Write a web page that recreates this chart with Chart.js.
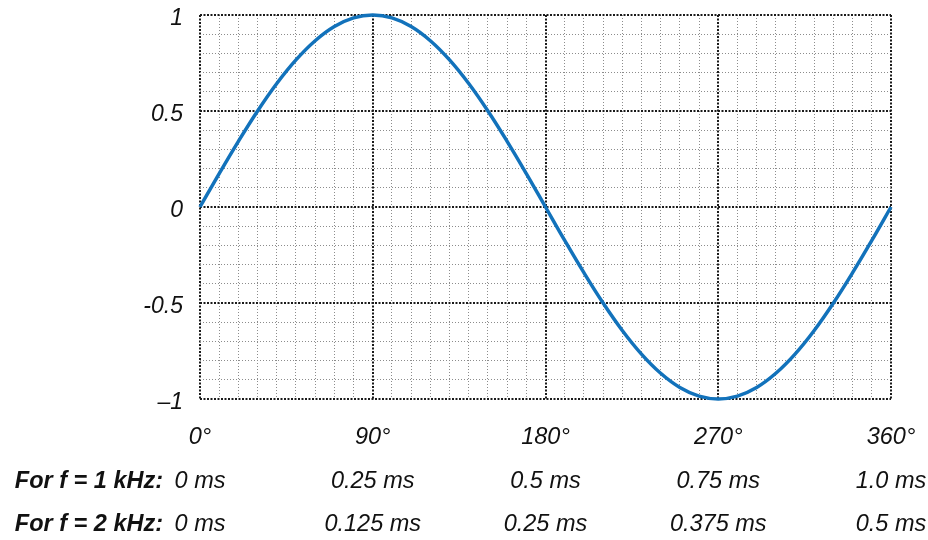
<!DOCTYPE html>
<html>
<head>
<meta charset="utf-8">
<script src="https://cdn.jsdelivr.net/npm/chart.js@4.4.1/dist/chart.umd.min.js"></script>
<style>
  html, body { margin: 0; padding: 0; background: #fff; }
  #wrap { width: 928px; height: 540px; position: relative; }
</style>
</head>
<body>
<div id="wrap"><canvas id="chart" width="928" height="540"></canvas></div>
<script>
// ---------- Data ----------
const angles = [0, 10, 20, 30, 40, 50, 60, 70, 80, 90, 100, 110, 120, 130, 140, 150, 160, 170, 180,
  190, 200, 210, 220, 230, 240, 250, 260, 270, 280, 290, 300, 310, 320, 330, 340, 350, 360];
const amplitude = [0, 0.174, 0.342, 0.5, 0.643, 0.766, 0.866, 0.94, 0.985, 1, 0.985, 0.94, 0.866, 0.766, 0.643, 0.5, 0.342, 0.174, 0,
  -0.174, -0.342, -0.5, -0.643, -0.766, -0.866, -0.94, -0.985, -1, -0.985, -0.94, -0.866, -0.766, -0.643, -0.5, -0.342, -0.174, 0];

// tick labels (one per major gridline)
const xMajor = [0, 90, 180, 270, 360];
const degreeLabels = ["0°", "90°", "180°", "270°", "360°"];
const ms1kHz = ["0 ms", "0.25 ms", "0.5 ms", "0.75 ms", "1.0 ms"];
const ms2kHz = ["0 ms", "0.125 ms", "0.25 ms", "0.375 ms", "0.5 ms"];
const yMajor = [-1, -0.5, 0, 0.5, 1];
const yLabels = ["\u20131", "-0.5", "0", "0.5", "1"];
const rowTitles = ["For f = 1 kHz:", "For f = 2 kHz:"];

// ---------- Style ----------
const FONT = "'Liberation Sans', Arial, sans-serif";
const FS = 23.5;
const LINE_H = 1.85;
const TICK_PAD = 17;

function majorIdx(list, v) {
  return list.findIndex((m) => Math.abs(m - v) < 1e-6);
}

function gridStyle(list) {
  return {
    color: (c) => (majorIdx(list, c.tick ? c.tick.value : NaN) >= 0 ? "#1a1a1a" : "#8c8c8c"),
    lineWidth: (c) => (majorIdx(list, c.tick ? c.tick.value : NaN) >= 0 ? 2 : 1),
    drawTicks: false,
  };
}

function borderStyle(list) {
  return {
    display: false,
    dash: (c) => (majorIdx(list, c.tick ? c.tick.value : NaN) >= 0 ? [2, 1.5] : [1, 2]),
  };
}

// row titles drawn left of the ms rows
const rowTitlePlugin = {
  id: "rowTitles",
  afterDraw(chart) {
    const xs = chart.scales.x;
    const ctx = chart.ctx;
    ctx.save();
    ctx.font = `italic bold ${FS}px ${FONT}`;
    ctx.fillStyle = "#111";
    ctx.textAlign = "right";
    ctx.textBaseline = "middle";
    const lh = FS * LINE_H;
    rowTitles.forEach((t, i) => {
      const y = xs.top + TICK_PAD + lh * (i + 1.5);
      ctx.fillText(t, chart.chartArea.left - 37, y);
    });
    ctx.restore();
  },
};

new Chart(document.getElementById("chart"), {
  type: "line",
  data: {
    labels: angles,
    datasets: [
      {
        data: angles.map((a, i) => ({ x: a, y: amplitude[i] })),
        borderColor: "#1272bb",
        borderWidth: 3.5,
        pointRadius: 0,
        tension: 0.4,
        clip: false,
      },
    ],
  },
  options: {
    responsive: false,
    animation: false,
    layout: { padding: { top: 15, right: 37, left: 0, bottom: 0 } },
    plugins: { legend: { display: false }, tooltip: { enabled: false } },
    scales: {
      x: {
        type: "linear",
        min: 0,
        max: 360,
        afterBuildTicks(scale) {
          scale.ticks = angles.map((v) => ({ value: v }));
        },
        afterFit(scale) {
          scale.height = 540 - 399;
          scale.paddingLeft = 0;
          scale.paddingRight = 0;
        },
        grid: gridStyle(xMajor),
        border: borderStyle(xMajor),
        ticks: {
          autoSkip: false,
          maxRotation: 0,
          padding: TICK_PAD,
          color: "#111",
          font: { family: FONT, size: FS, style: "italic", lineHeight: LINE_H },
          callback(v) {
            const i = majorIdx(xMajor, v);
            return i >= 0 ? [degreeLabels[i], ms1kHz[i], ms2kHz[i]] : "";
          },
        },
      },
      y: {
        type: "linear",
        min: -1,
        max: 1,
        afterBuildTicks(scale) {
          const t = [];
          for (let k = -10; k <= 10; k++) t.push({ value: k / 10 });
          scale.ticks = t;
        },
        afterFit(scale) {
          scale.width = 200;
          scale.paddingTop = 0;
          scale.paddingBottom = 0;
        },
        grid: gridStyle(yMajor),
        border: borderStyle(yMajor),
        ticks: {
          autoSkip: false,
          padding: 17,
          color: "#111",
          // empty first line nudges the label a few px below its gridline, as in the original
          font: { family: FONT, size: 23, style: "italic", lineHeight: "8px" },
          callback(v) {
            const i = majorIdx(yMajor, v);
            return i >= 0 ? ["", yLabels[i]] : "";
          },
        },
      },
    },
  },
  plugins: [rowTitlePlugin],
});
</script>
</body>
</html>
